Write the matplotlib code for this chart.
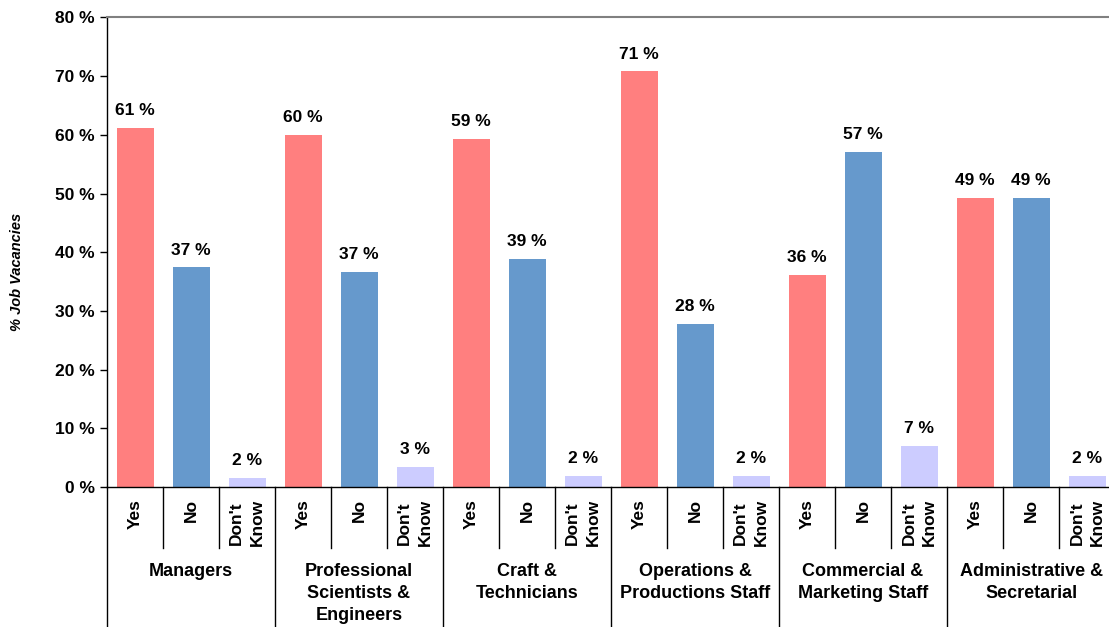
import numpy as np
import matplotlib
matplotlib.use('Agg')
import matplotlib.pyplot as plt
from matplotlib.ticker import FuncFormatter

plt.rcParams['font.family'] = ['Liberation Sans', 'DejaVu Sans']

# Job vacancy survey answers per occupation group (percent)
groups = ['Managers', 'Professional\nScientists &\nEngineers', 'Craft &\nTechnicians',
          'Operations &\nProductions Staff', 'Commercial &\nMarketing Staff',
          'Administrative &\nSecretarial']
answers = ['Yes', 'No', "Don't\nKnow"]
yes_pct = [61.2, 60.0, 59.3, 70.8, 36.2, 49.3]
no_pct = [37.4, 36.7, 38.9, 27.8, 57.1, 49.3]
dk_pct = [1.6, 3.4, 1.9, 1.9, 7.0, 1.9]

colors = ['#FF7F7F', '#6699CC', '#CCCCFF']

fig = plt.figure(figsize=(11.09, 6.27), dpi=100)
ax = fig.add_axes([0.0965, 0.2233, 0.909, 0.7489])

n = len(groups)
base = np.arange(n) * 3
for j, vals in enumerate([yes_pct, no_pct, dk_pct]):
    bars = ax.bar(base + j, vals, width=0.66, color=colors[j], zorder=2)
    ax.bar_label(bars, labels=[f'{v:.0f} %' for v in vals], padding=7,
                 fontsize=12.5, fontweight='bold')

ax.set_xlim(-0.5, 3 * n - 0.5)
ax.set_ylim(0, 80)
ax.set_yticks(np.arange(0, 81, 10))
ax.yaxis.set_major_formatter(FuncFormatter(lambda v, p: f'{v:.0f} %'))
ax.tick_params(axis='y', labelsize=12.5, length=5, width=1, direction='out', pad=4)
for t in ax.get_yticklabels():
    t.set_fontweight('bold')
ax.set_xticks([])

ax.spines['right'].set_visible(False)
ax.spines['top'].set_color('#808080')
ax.spines['top'].set_linewidth(1.5)
ax.spines['left'].set_linewidth(1)
ax.spines['bottom'].set_linewidth(1)

ax.set_ylabel('% Job Vacancies', fontsize=10.5, fontweight='bold', fontstyle='italic')
ax.yaxis.set_label_coords(-0.082, 0.458)

trans = ax.get_xaxis_transform()
# separators between answers and between groups under the axis
for i in range(n):
    for j in (1, 2):
        ax.plot([3 * i + j - 0.5] * 2, [0, -0.13], color='black', lw=1,
                transform=trans, clip_on=False)
    ax.plot([3 * i - 0.5] * 2, [0, -0.35], color='black', lw=1,
            transform=trans, clip_on=False)
    for j, a in enumerate(answers):
        ax.text(3 * i + j, -0.026, a, transform=trans, rotation=90, ha='center',
                va='top', fontsize=12.5, fontweight='bold', linespacing=1.45)
    ax.text(3 * i + 1, -0.162, groups[i], transform=trans, ha='center', va='top',
            fontsize=13, fontweight='bold', linespacing=1.4)

fig.savefig('out.png', dpi=100)
